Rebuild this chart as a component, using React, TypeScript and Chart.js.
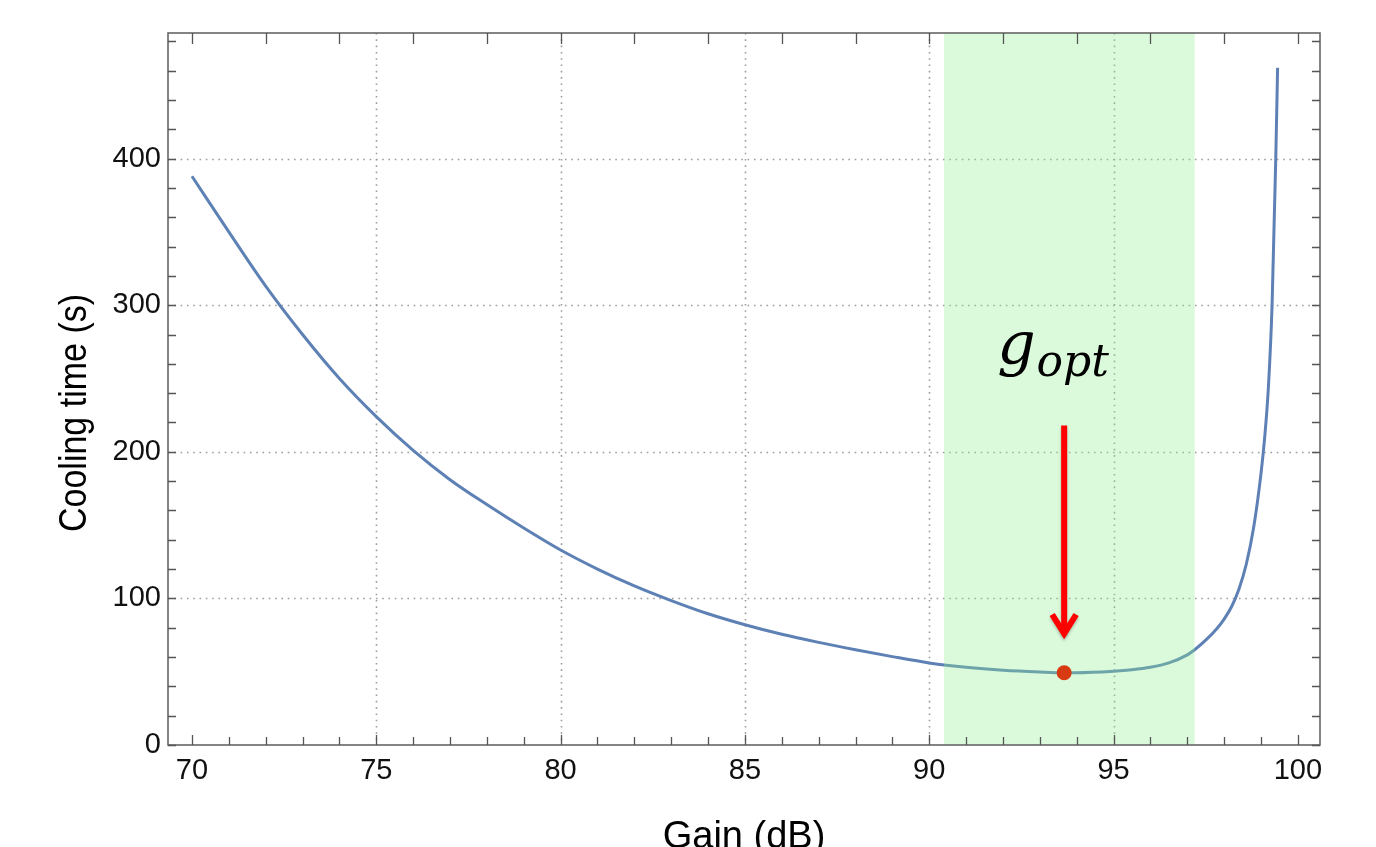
import React, { useEffect, useRef } from "react";
import { Chart, registerables } from "chart.js";

Chart.register(...registerables);

// ---- data ----
const gains = [
  70, 71, 72, 73, 74, 75, 76, 77, 78, 79, 80, 81, 82, 83, 84, 85, 86, 87, 88, 89, 90, 91, 92, 93,
  93.66, 94, 95, 95.5, 96, 96.5, 97, 97.2, 97.5, 97.8, 98, 98.2, 98.4, 98.6, 98.8, 99, 99.1, 99.2,
  99.3, 99.4, 99.45,
];
const coolingTimes = [
  388, 350, 313, 280, 250, 224, 201, 181, 164, 148, 133, 120, 108.5, 98.5, 89.5, 82, 75.5, 70, 65,
  60.3, 56, 53, 51, 49.8, 49.3, 49.3, 50.3, 51.3, 53, 56, 61.5, 65, 71.5, 79.3, 85.9, 94.3, 106.3,
  123.3, 148.3, 185.3, 210, 244, 300, 400, 462,
];

const xTickLabels = [70, 75, 80, 85, 90, 95, 100];
const yTickLabels = [0, 100, 200, 300, 400];
const xGridValues = [75, 80, 85, 90, 95];
const yGridValues = [100, 200, 300, 400];
const bottomMarks = [70, 71, 72, 73, 74, 75, 76, 77, 78, 79, 80, 81, 82, 83, 84, 85, 86, 87, 88, 89, 90, 91, 92, 93, 94, 95, 96, 97, 98, 99, 100];
const topMarks = [70, 72, 74, 76, 78, 80, 82, 84, 86, 88, 90, 92, 94, 96, 98, 100];
const sideMarks = [0, 20, 40, 60, 80, 100, 120, 140, 160, 180, 200, 220, 240, 260, 280, 300, 320, 340, 360, 380, 400, 420, 440, 460, 480];

const Y_TITLE = "Cooling time (s)";
const X_TITLE = "Gain (dB)";

const OPT_GAIN = 93.66;
const OPT_TIME = 49.3;
const BAND_START = 90.4;
const BAND_END = 97.2;
const ARROW_TOP = 218;
const ARROW_TIP = 74;
const LABEL_TIME = 260;

const X_MIN = 69.35;
const X_MAX = 100.6;
const Y_MIN = 0;
const Y_MAX = 485.7;

const TICK_FONT = '"Liberation Sans", Arial, sans-serif';

const decor = {
  id: "decor",
  beforeDatasetsDraw(chart: any) {
    const { ctx, chartArea: a, scales } = chart;
    const x = scales.x;
    const y = scales.y;
    ctx.save();
    ctx.strokeStyle = "#9d9d9d";
    ctx.lineWidth = 1.6;
    ctx.setLineDash([1.6, 4.7]);
    for (const g of xGridValues) {
      const px = Math.round(x.getPixelForValue(g)) + 0.5;
      ctx.beginPath();
      ctx.moveTo(px, a.top);
      ctx.lineTo(px, a.bottom);
      ctx.stroke();
    }
    for (const v of yGridValues) {
      const py = Math.round(y.getPixelForValue(v)) + 0.5;
      ctx.beginPath();
      ctx.moveTo(a.left, py);
      ctx.lineTo(a.right, py);
      ctx.stroke();
    }
    ctx.restore();
  },
  afterDatasetsDraw(chart: any) {
    const { ctx, chartArea: a, scales } = chart;
    const x = scales.x;
    const y = scales.y;
    ctx.save();

    // green optimal band (translucent overlay)
    const bx1 = x.getPixelForValue(BAND_START);
    const bx2 = x.getPixelForValue(BAND_END);
    ctx.fillStyle = "rgba(144, 238, 144, 0.32)";
    ctx.fillRect(bx1, a.top, bx2 - bx1, a.bottom - a.top);

    // optimum dot
    const dx = x.getPixelForValue(OPT_GAIN);
    const dy = y.getPixelForValue(OPT_TIME);
    ctx.fillStyle = "#d83a12";
    ctx.beginPath();
    ctx.arc(dx, dy, 7.5, 0, Math.PI * 2);
    ctx.fill();

    // arrow
    const ay1 = y.getPixelForValue(ARROW_TOP);
    const ay2 = y.getPixelForValue(ARROW_TIP);
    ctx.save();
    ctx.shadowColor = "rgba(0,0,0,0.25)";
    ctx.shadowBlur = 3;
    ctx.shadowOffsetY = 2;
    ctx.strokeStyle = "#ff0000";
    ctx.lineWidth = 6;
    ctx.lineCap = "butt";
    ctx.beginPath();
    ctx.moveTo(dx, ay1);
    ctx.lineTo(dx, ay2 - 3);
    ctx.stroke();
    ctx.lineJoin = "miter";
    ctx.beginPath();
    ctx.moveTo(dx - 12, ay2 - 22);
    ctx.lineTo(dx, ay2 - 3);
    ctx.lineTo(dx + 12, ay2 - 22);
    ctx.stroke();
    ctx.restore();

    // label g_opt
    const ly = y.getPixelForValue(LABEL_TIME);
    ctx.fillStyle = "#000";
    ctx.textBaseline = "alphabetic";
    ctx.textAlign = "left";
    ctx.font = 'italic 60px "DejaVu Serif", serif';
    const gx = dx - 67;
    ctx.fillText("g", gx, ly);
    const gw = ctx.measureText("g").width;
    ctx.font = 'italic 44px "DejaVu Serif", serif';
    ctx.fillText("opt", gx + gw + 1, ly + 12);

    // frame
    ctx.strokeStyle = "#666";
    ctx.lineWidth = 1.6;
    ctx.strokeRect(a.left, a.top, a.right - a.left, a.bottom - a.top);

    // inward tick marks
    ctx.strokeStyle = "#555";
    ctx.lineWidth = 1.3;
    ctx.beginPath();
    for (const g of bottomMarks) {
      const px = Math.round(x.getPixelForValue(g)) + 0.5;
      const len = g % 5 === 0 ? 10 : 8;
      ctx.moveTo(px, a.bottom);
      ctx.lineTo(px, a.bottom - len);
    }
    for (const g of topMarks) {
      const px = Math.round(x.getPixelForValue(g)) + 0.5;
      ctx.moveTo(px, a.top);
      ctx.lineTo(px, a.top + 11);
    }
    for (const v of sideMarks) {
      const py = Math.round(y.getPixelForValue(v)) + 0.5;
      ctx.moveTo(a.left, py);
      ctx.lineTo(a.left + 8, py);
      ctx.moveTo(a.right, py);
      ctx.lineTo(a.right - 8, py);
    }
    ctx.stroke();

    // y axis title (rotated, slightly widened like the reference)
    ctx.save();
    ctx.translate(75, (a.top + a.bottom) / 2 + 24);
    ctx.scale(1.15, 1);
    ctx.rotate(-Math.PI / 2);
    ctx.fillStyle = "#000";
    ctx.font = `34px ${TICK_FONT}`;
    ctx.textAlign = "center";
    ctx.textBaseline = "middle";
    ctx.fillText(Y_TITLE, 0, 0);
    ctx.restore();

    ctx.restore();
  },
};

export default function App() {
  const ref = useRef<HTMLCanvasElement | null>(null);
  useEffect(() => {
    if (!ref.current) return;
    const chart = new Chart(ref.current, {
      type: "line",
      data: {
        datasets: [
          {
            data: gains.map((g, i) => ({ x: g, y: coolingTimes[i] })),
            borderColor: "#5e81b5",
            borderWidth: 3,
            pointRadius: 0,
            cubicInterpolationMode: "monotone",
            fill: false,
          },
        ],
      },
      options: {
        animation: false,
        responsive: false,
        maintainAspectRatio: false,
        devicePixelRatio: 1,
        layout: { padding: { left: 0, top: 33, right: 56, bottom: 0 } },
        plugins: { legend: { display: false }, tooltip: { enabled: false } },
        scales: {
          x: {
            type: "linear",
            min: X_MIN,
            max: X_MAX,
            afterBuildTicks: (s: any) => {
              s.ticks = xTickLabels.map((v) => ({ value: v }));
            },
            afterFit: (s: any) => {
              s.height = 102;
            },
            grid: { display: false, drawTicks: false },
            border: { display: false },
            ticks: {
              padding: 9,
              color: "#111",
              font: { family: TICK_FONT, size: 29 },
              maxRotation: 0,
              autoSkip: false,
            },
            title: {
              display: true,
              text: X_TITLE,
              color: "#000",
              font: { family: TICK_FONT, size: 38, lineHeight: 0.6 },
              padding: { top: 0, bottom: -2 },
            },
          },
          y: {
            type: "linear",
            min: Y_MIN,
            max: Y_MAX,
            afterBuildTicks: (s: any) => {
              s.ticks = yTickLabels.map((v) => ({ value: v }));
            },
            afterFit: (s: any) => {
              s.width = 168;
            },
            grid: { display: false, drawTicks: false },
            border: { display: false },
            ticks: {
              padding: 7,
              color: "#111",
              font: { family: TICK_FONT, size: 29 },
              autoSkip: false,
            },
            title: { display: false },
          },
        },
      },
      plugins: [decor],
    } as any);
    return () => chart.destroy();
  }, []);
  return (
    <div style={{ position: "fixed", left: 0, top: 0, width: 1376, height: 847, background: "#fff" }}>
      <canvas ref={ref} width={1376} height={847} style={{ display: "block" }} />
    </div>
  );
}
